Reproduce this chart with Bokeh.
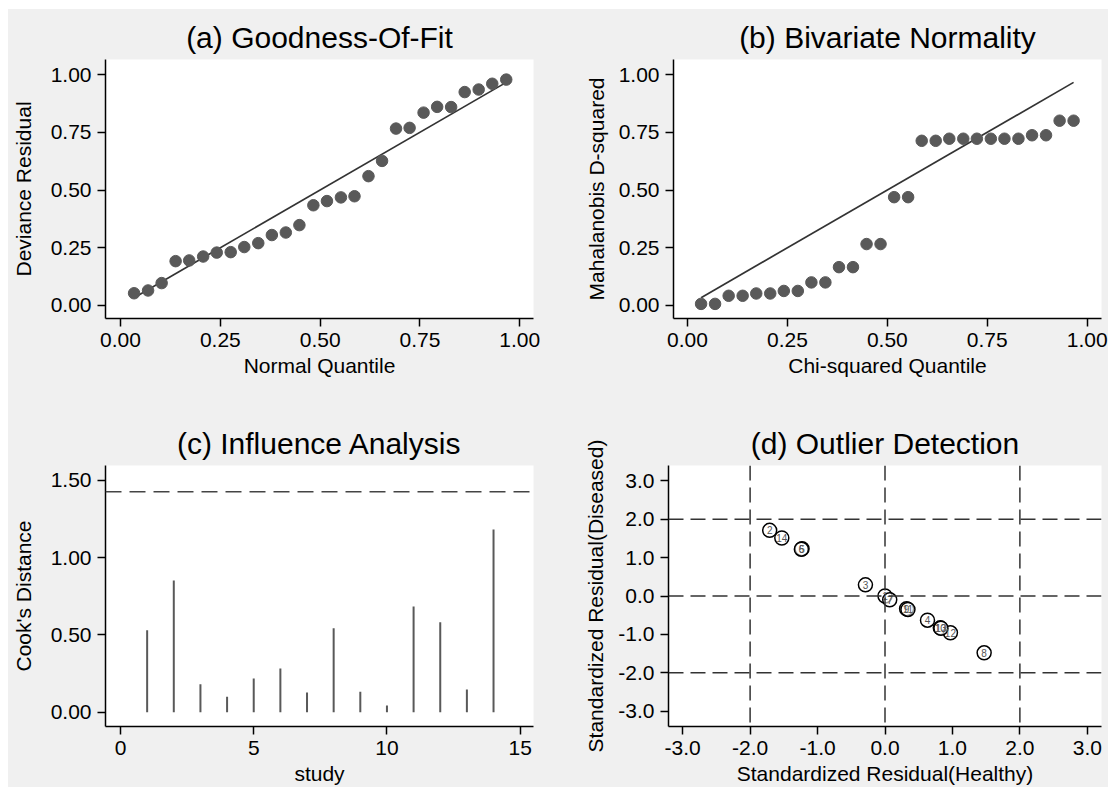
from bokeh.plotting import figure
from bokeh.layouts import column, row
from bokeh.models import Range1d, FixedTicker, PrintfTickFormatter, Span, ColumnDataSource
from bokeh.core.properties import value
from bokeh.embed import file_html
from bokeh.resources import INLINE

# ---------------- data ----------------
quantile = [0.034, 0.069, 0.103, 0.138, 0.172, 0.207, 0.241, 0.276, 0.310, 0.345,
            0.379, 0.414, 0.448, 0.483, 0.517, 0.552, 0.586, 0.621, 0.655, 0.690,
            0.724, 0.759, 0.793, 0.828, 0.862, 0.897, 0.931, 0.966]
deviance_residual = [0.053, 0.065, 0.097, 0.192, 0.195, 0.212, 0.229, 0.231, 0.253, 0.270,
                     0.305, 0.316, 0.348, 0.434, 0.452, 0.468, 0.473, 0.560, 0.626, 0.766,
                     0.769, 0.835, 0.860, 0.859, 0.924, 0.935, 0.960, 0.978]
mahalanobis_d2 = [0.007, 0.007, 0.042, 0.042, 0.052, 0.052, 0.063, 0.063, 0.100, 0.100,
                  0.166, 0.166, 0.266, 0.266, 0.469, 0.469, 0.713, 0.713, 0.722, 0.722,
                  0.722, 0.722, 0.722, 0.722, 0.737, 0.737, 0.800, 0.800]
ref_line = [0.034, 0.966]

study = [1, 2, 3, 4, 5, 6, 7, 8, 9, 10, 11, 12, 13, 14]
cooks_distance = [0.530, 0.851, 0.181, 0.100, 0.218, 0.282, 0.127, 0.543, 0.132, 0.043,
                  0.683, 0.582, 0.147, 1.181]
cooks_threshold = 1.425

resid_healthy = [0.00, -1.71, -0.29, 0.63, -1.23, -1.24, 0.07, 1.47, 0.32, 0.82,
                 0.34, 0.97, 0.83, -1.53]
resid_diseased = [0.00, 1.71, 0.29, -0.63, 1.23, 1.22, -0.10, -1.48, -0.33, -0.83,
                  -0.35, -0.96, -0.84, 1.51]
study_labels = [str(s) for s in study]

ticks_01 = [0.0, 0.25, 0.5, 0.75, 1.0]
ticks_cook_y = [0.0, 0.5, 1.0, 1.5]
ticks_study = [0, 5, 10, 15]
ticks_resid = [-3, -2, -1, 0, 1, 2, 3]
ref_resid = [-2, 0, 2]

FONT = "Liberation Sans"
BG = "#f0f0f0"
PT = "#595959"


def make(title, xlabel, ylabel, xr, yr, borders, ylab_standoff):
    l, r, t, b = borders
    p = figure(width=550, height=389, x_range=Range1d(*xr), y_range=Range1d(*yr),
               toolbar_location=None, output_backend="svg",
               min_border_left=l, min_border_right=r, min_border_top=t, min_border_bottom=b)
    p.title.text = title
    p.title.text_font = FONT
    p.title.text_font_size = "30px"
    p.title.text_font_style = "normal"
    p.title.text_color = "black"
    p.title.align = "center"
    p.title.standoff = 12
    p.background_fill_color = "white"
    p.border_fill_color = BG
    p.outline_line_color = None
    p.xgrid.visible = False
    p.ygrid.visible = False
    p.xaxis.axis_label = xlabel
    p.yaxis.axis_label = ylabel
    for ax in (p.xaxis[0], p.yaxis[0]):
        ax.axis_line_color = "black"
        ax.axis_line_width = 1.5
        ax.major_tick_line_color = "black"
        ax.major_tick_line_width = 1.5
        ax.major_tick_out = 8
        ax.major_tick_in = 0
        ax.minor_tick_line_color = None
        ax.major_label_text_font = FONT
        ax.major_label_text_font_size = "21px"
        ax.major_label_text_color = "black"
        ax.major_label_standoff = 6
        ax.axis_label_text_font = FONT
        ax.axis_label_text_font_size = "21px"
        ax.axis_label_text_font_style = "normal"
        ax.axis_label_text_color = "black"
        ax.axis_label_standoff = 4
    p.yaxis[0].axis_label_standoff = ylab_standoff
    return p


# (a) Goodness-of-fit
pa = make("(a) Goodness-Of-Fit", "Normal Quantile", "Deviance Residual",
          (-0.0376, 1.0343), (-0.0563, 1.065), (97, 25, 50, 80), 13)
pa.line(ref_line, ref_line, line_color="#333333", line_width=1.7)
pa.scatter(quantile, deviance_residual, size=11.5, fill_color=PT, line_color=PT)
pa.xaxis.ticker = FixedTicker(ticks=ticks_01)
pa.yaxis.ticker = FixedTicker(ticks=ticks_01)
pa.xaxis.formatter = PrintfTickFormatter(format="%.2f")
pa.yaxis.formatter = PrintfTickFormatter(format="%.2f")

# (b) Bivariate normality
pb = make("(b) Bivariate Normality", "Chi-squared Quantile", "Mahalanobis D-squared",
          (-0.035, 1.0358), (-0.0563, 1.065), (115, 7, 50, 80), 8)
pb.line(ref_line, ref_line, line_color="#333333", line_width=1.7)
pb.scatter(quantile, mahalanobis_d2, size=11.5, fill_color=PT, line_color=PT)
pb.xaxis.ticker = FixedTicker(ticks=ticks_01)
pb.yaxis.ticker = FixedTicker(ticks=ticks_01)
pb.xaxis.formatter = PrintfTickFormatter(format="%.2f")
pb.yaxis.formatter = PrintfTickFormatter(format="%.2f")

# (c) Influence analysis
pc = make("(c) Influence Analysis", "study", "Cook's Distance",
          (-0.563, 15.50), (-0.0924, 1.595), (97, 25, 67, 60), 13)
pc.segment(x0=study, y0=[0] * len(study), x1=study, y1=cooks_distance,
           line_color=PT, line_width=2)
pc.add_layout(Span(location=cooks_threshold, dimension="width", line_color="#444444",
                   line_width=1.5, line_dash="16 8"))
pc.xaxis.ticker = FixedTicker(ticks=ticks_study)
pc.yaxis.ticker = FixedTicker(ticks=ticks_cook_y)
pc.xaxis.formatter = PrintfTickFormatter(format="%d")
pc.yaxis.formatter = PrintfTickFormatter(format="%.2f")

# (d) Outlier detection
pd_ = make("(d) Outlier Detection", "Standardized Residual(Healthy)",
           "Standardized Residual(Diseased)",
           (-3.21, 3.21), (-3.40, 3.40), (110, 7, 67, 60), 8)
for v in ref_resid:
    pd_.add_layout(Span(location=v, dimension="width", line_color="#333333",
                        line_width=1.5, line_dash="15 7"))
    pd_.add_layout(Span(location=v, dimension="height", line_color="#333333",
                        line_width=1.5, line_dash="15 7"))
src = ColumnDataSource(dict(x=resid_healthy, y=resid_diseased, lab=study_labels))
pd_.scatter("x", "y", source=src, size=14, fill_color="white", fill_alpha=0.6,
            line_color="black", line_width=1.5)
pd_.text("x", "y", text="lab", source=src, text_font=value(FONT), text_font_size="10px",
         text_color="#555555", text_align="center", text_baseline="middle")
pd_.xaxis.ticker = FixedTicker(ticks=ticks_resid)
pd_.yaxis.ticker = FixedTicker(ticks=ticks_resid)
pd_.xaxis.formatter = PrintfTickFormatter(format="%.1f")
pd_.yaxis.formatter = PrintfTickFormatter(format="%.1f")

bgstyle = {"background-color": BG}
layout = column(row(pa, pb, spacing=0, styles=bgstyle),
                row(pc, pd_, spacing=0, styles=bgstyle),
                spacing=0, margin=(9, 0, 0, 8), styles=bgstyle)

open("out.html", "w").write(file_html(layout, INLINE))
